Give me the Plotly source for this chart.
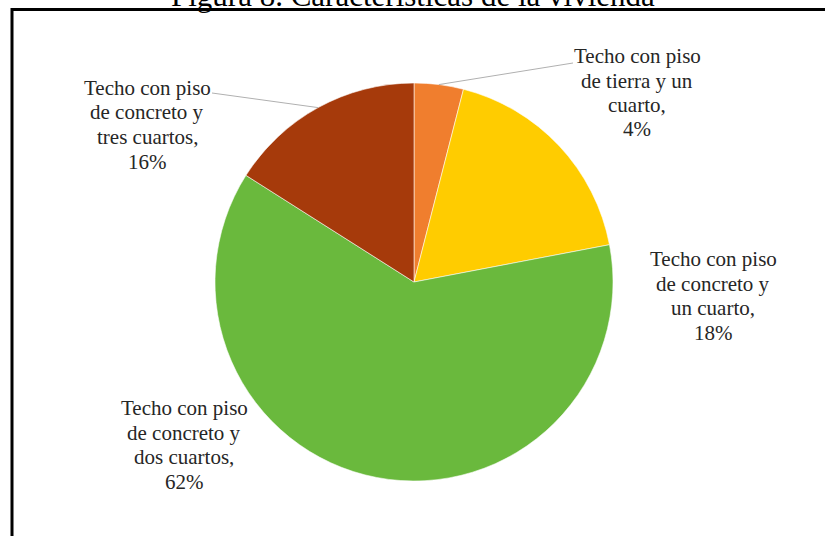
import math
import plotly.graph_objects as go

W, H = 825, 536

categories = [
    "Techo con piso de tierra y un cuarto",
    "Techo con piso de concreto y un cuarto",
    "Techo con piso de concreto y dos cuartos",
    "Techo con piso de concreto y tres cuartos",
]
values = [4, 18, 62, 16]
colors = ["#F07E2E", "#FFCC00", "#6AB93D", "#A63A0B"]
label_lines = [
    ["Techo con piso", "de tierra y un", "cuarto,", "4%"],
    ["Techo con piso", "de concreto y", "un cuarto,", "18%"],
    ["Techo con piso", "de concreto y", "dos cuartos,", "62%"],
    ["Techo con piso", "de concreto y", "tres cuartos,", "16%"],
]
title_text = "Figura 8. Características de la vivienda"

# layout (pixels)
cx, cy, R = 414, 282, 199
label_pos = [(637, 56), (713, 259), (184, 408), (147, 88)]
line_gap = 24.5
leader_end = {0: (573, 63), 3: (212, 93)}


def px(x):
    return x / W


def py(y):
    return 1 - y / H


fig = go.Figure(
    go.Pie(
        labels=categories,
        values=values,
        sort=False,
        direction="clockwise",
        rotation=0,
        textinfo="none",
        hoverinfo="label+percent",
        marker=dict(colors=colors, line=dict(color="rgba(255,255,255,0.55)", width=1)),
        domain=dict(x=[px(cx - R), px(cx + R)], y=[py(cy + R), py(cy - R)]),
        showlegend=False,
    )
)

annotations = []
for (lx, ly), lines in zip(label_pos, label_lines):
    for i, t in enumerate(lines):
        annotations.append(
            dict(
                x=px(lx), y=py(ly + i * line_gap), xref="paper", yref="paper",
                text=t, showarrow=False, xanchor="center", yanchor="middle",
                font=dict(family="Liberation Serif", size=21, color="#262626"),
            )
        )

annotations.append(
    dict(
        x=px(413), y=py(-5), xref="paper", yref="paper", text=title_text,
        showarrow=False, xanchor="center", yanchor="middle",
        font=dict(family="Liberation Serif", size=31, color="#000000"),
    )
)

shapes = []
total = sum(values)
cum = 0
for i, v in enumerate(values):
    mid = (cum + v / 2) / total * 2 * math.pi
    cum += v
    if i in leader_end:
        sx = cx + R * math.sin(mid)
        sy = cy - R * math.cos(mid)
        ex, ey = leader_end[i]
        shapes.append(
            dict(type="line", xref="paper", yref="paper",
                 x0=px(sx), y0=py(sy), x1=px(ex), y1=py(ey),
                 line=dict(color="#B0B0B0", width=1))
        )

# frame around the chart
shapes.append(
    dict(type="rect", xref="paper", yref="paper",
         x0=px(12), y0=py(545), x1=px(835), y1=py(9.5),
         line=dict(color="#000000", width=3), fillcolor="rgba(0,0,0,0)", layer="below")
)

fig.update_layout(
    width=W, height=H,
    margin=dict(l=0, r=0, t=0, b=0),
    paper_bgcolor="white", plot_bgcolor="white",
    annotations=annotations, shapes=shapes,
)

fig.write_html(
    "out.html",
    config={"displayModeBar": False},
    post_script="document.body.style.margin='0';document.body.style.overflow='hidden';",
)
